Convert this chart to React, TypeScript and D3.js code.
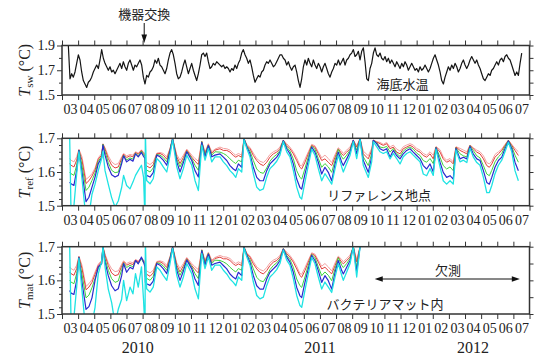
import React, { useRef, useEffect } from 'react';
import * as d3 from 'd3';

// time axis: months counted from 2010-03-01 (0) to 2012-08-01 (29)
const MONTH_LABELS = [
  '03', '04', '05', '06', '07', '08', '09', '10', '11', '12',
  '01', '02', '03', '04', '05', '06', '07', '08', '09', '10', '11', '12',
  '01', '02', '03', '04', '05', '06', '07',
];
const YEAR_LABELS = ['2010', '2011', '2012'];
const YEAR_AT = [4.7, 16.0, 25.5];

// seabed water temperature, regular samples (~3.15 days)
const SW_START = 0.393;
const SW_STEP = 0.1034;
const SW_VALUES = [
  1.900, 1.631, 1.672, 1.644, 1.686, 1.756, 1.825, 1.783, 1.686, 1.617,
  1.589, 1.561, 1.603, 1.617, 1.644, 1.686, 1.714, 1.742, 1.714, 1.783,
  1.867, 1.797, 1.756, 1.728, 1.700, 1.728, 1.686, 1.700, 1.672, 1.700,
  1.728, 1.756, 1.714, 1.769, 1.728, 1.700, 1.756, 1.783, 1.742, 1.700,
  1.742, 1.728, 1.756, 1.783, 1.742, 1.644, 1.589, 1.658, 1.644, 1.686,
  1.700, 1.728, 1.783, 1.756, 1.797, 1.742, 1.728, 1.700, 1.672, 1.714,
  1.783, 1.839, 1.867, 1.825, 1.756, 1.672, 1.631, 1.644, 1.686, 1.742,
  1.783, 1.728, 1.672, 1.714, 1.756, 1.700, 1.658, 1.617, 1.672, 1.742,
  1.825, 1.839, 1.811, 1.839, 1.769, 1.714, 1.728, 1.756, 1.742, 1.769,
  1.756, 1.742, 1.728, 1.742, 1.714, 1.728, 1.714, 1.686, 1.714, 1.700,
  1.742, 1.714, 1.756, 1.783, 1.839, 1.867, 1.825, 1.797, 1.756, 1.783,
  1.728, 1.658, 1.603, 1.631, 1.658, 1.644, 1.686, 1.700, 1.742, 1.769,
  1.756, 1.783, 1.756, 1.728, 1.742, 1.769, 1.797, 1.825, 1.825, 1.797,
  1.783, 1.742, 1.769, 1.728, 1.700, 1.728, 1.742,
  1.686, 1.617, 1.561, 1.631, 1.728, 1.783, 1.742, 1.797, 1.756, 1.728,
  1.783, 1.742, 1.714, 1.756, 1.728, 1.686, 1.728, 1.756, 1.714, 1.672,
  1.644, 1.686, 1.714, 1.756, 1.742, 1.783, 1.742, 1.769, 1.797, 1.742,
  1.783, 1.797, 1.825, 1.839, 1.867, 1.811, 1.825, 1.853, 1.783, 1.853,
  1.881, 1.769, 1.631, 1.617, 1.714, 1.756, 1.839, 1.881, 1.825, 1.811,
  1.839, 1.797, 1.783, 1.811, 1.769, 1.797, 1.756, 1.783, 1.756, 1.728,
  1.769, 1.742, 1.714, 1.756, 1.728, 1.769, 1.742, 1.700, 1.728, 1.756,
  1.728, 1.700, 1.714, 1.686, 1.728, 1.700, 1.714, 1.742, 1.714, 1.686,
  1.714, 1.756, 1.797, 1.825, 1.783, 1.742, 1.686, 1.617, 1.589, 1.644,
  1.686, 1.728, 1.700, 1.742, 1.714, 1.756, 1.728, 1.686, 1.714, 1.756,
  1.783, 1.742, 1.714, 1.742, 1.783, 1.811, 1.783, 1.756, 1.783, 1.742,
  1.714, 1.672, 1.631, 1.617, 1.644, 1.672, 1.658, 1.700, 1.714, 1.742,
  1.769, 1.742, 1.783, 1.797, 1.769, 1.811, 1.825, 1.797, 1.783, 1.742,
  1.700, 1.658, 1.686, 1.658, 1.756, 1.839,
];

// sediment sensor records share these times (months since 2010-03-01)
const KEY_TIMES = [
  0.47, 0.56, 0.74, 0.91, 1.05, 1.24, 1.49, 1.67, 1.86, 2.05,
  2.25, 2.46, 2.54, 2.67, 2.87, 3.08, 3.29, 3.49, 3.70, 3.82,
  4.01, 4.22, 4.40, 4.56, 4.73, 4.93, 5.06, 5.15, 5.17, 5.25,
  5.46, 5.66, 5.88, 6.08, 6.28, 6.50, 6.70, 6.86, 7.12, 7.32,
  7.53, 7.74, 8.05, 8.25, 8.46, 8.67, 8.87, 9.08, 9.29, 9.49,
  9.80, 10.01, 10.22, 10.42, 10.63, 10.78, 10.94, 11.15, 11.29, 11.46,
  11.66, 11.87, 12.08, 12.28, 12.49, 12.70, 12.90, 13.11, 13.32, 13.52,
  13.73, 13.94, 14.14, 14.35, 14.56, 14.76, 14.87, 15.07, 15.28, 15.49,
  15.69, 15.90, 16.11, 16.31, 16.52, 16.73, 16.94, 17.14, 17.35, 17.45,
  17.66, 17.87, 18.07, 18.28, 18.49, 18.69, 19.00, 19.21, 19.31, 19.52,
  19.73, 19.93, 20.14, 20.35, 20.55, 20.76, 20.97, 21.17, 21.38, 21.59,
  21.79, 22.00, 22.21, 22.41, 22.62, 22.83, 23.03, 23.20, 23.45, 23.65,
  23.86, 24.07, 24.27, 24.44, 24.69, 24.90, 25.11, 25.31, 25.51, 25.73,
  25.93, 26.14, 26.35, 26.51, 26.66, 26.86, 27.07, 27.28, 27.48, 27.69,
  27.90, 28.10, 28.31,
];

// reference site
const REF_PINK = [
  1.640, 1.635, 1.630, 1.645, 1.668, 1.645, 1.578, 1.585, 1.595, 1.612,
  1.642, 1.655, 1.684, 1.672, 1.648, 1.630, 1.622, 1.625, 1.645, 1.655,
  1.648, 1.652, 1.650, 1.660, 1.656, 1.666, 1.658, 1.655, 1.632, 1.628,
  1.622, 1.630, 1.656, 1.658, 1.655, 1.645, 1.670, 1.700, 1.652, 1.635,
  1.650, 1.668, 1.650, 1.640, 1.632, 1.692, 1.660, 1.684, 1.660, 1.668,
  1.674, 1.670, 1.669, 1.665, 1.655, 1.650, 1.655, 1.650, 1.700, 1.682,
  1.673, 1.656, 1.640, 1.632, 1.628, 1.638, 1.652, 1.660, 1.665, 1.674,
  1.695, 1.684, 1.674, 1.660, 1.642, 1.620, 1.618, 1.638, 1.660, 1.682,
  1.678, 1.660, 1.642, 1.650, 1.640, 1.628, 1.652, 1.672, 1.662, 1.655,
  1.665, 1.675, 1.695, 1.678, 1.700, 1.662, 1.648, 1.670, 1.695, 1.690,
  1.688, 1.682, 1.688, 1.674, 1.680, 1.668, 1.662, 1.675, 1.680, 1.684,
  1.680, 1.670, 1.665, 1.655, 1.650, 1.660, 1.650, 1.676, 1.666, 1.645,
  1.635, 1.640, 1.630, 1.675, 1.670, 1.665, 1.660, 1.680, 1.672, 1.665,
  1.660, 1.648, 1.628, 1.624, 1.632, 1.652, 1.660, 1.668, 1.682, 1.695,
  1.682, 1.670, 1.660,
];
const REF_RED = [
  1.625, 1.620, 1.615, 1.635, 1.665, 1.635, 1.566, 1.574, 1.588, 1.606,
  1.638, 1.650, 1.683, 1.668, 1.640, 1.620, 1.612, 1.615, 1.640, 1.653,
  1.643, 1.648, 1.645, 1.658, 1.653, 1.664, 1.655, 1.652, 1.622, 1.618,
  1.612, 1.622, 1.654, 1.655, 1.650, 1.638, 1.668, 1.700, 1.645, 1.625,
  1.643, 1.665, 1.644, 1.632, 1.622, 1.690, 1.655, 1.681, 1.655, 1.665,
  1.669, 1.664, 1.664, 1.659, 1.649, 1.644, 1.649, 1.644, 1.699, 1.679,
  1.669, 1.649, 1.634, 1.624, 1.619, 1.629, 1.644, 1.654, 1.659, 1.669,
  1.694, 1.679, 1.669, 1.654, 1.634, 1.614, 1.609, 1.629, 1.654, 1.679,
  1.674, 1.654, 1.634, 1.639, 1.629, 1.619, 1.644, 1.669, 1.654, 1.649,
  1.659, 1.669, 1.694, 1.674, 1.699, 1.654, 1.639, 1.664, 1.694, 1.689,
  1.684, 1.679, 1.684, 1.669, 1.674, 1.659, 1.654, 1.669, 1.674, 1.679,
  1.674, 1.664, 1.659, 1.649, 1.644, 1.654, 1.639, 1.674, 1.659, 1.639,
  1.629, 1.634, 1.624, 1.674, 1.664, 1.659, 1.654, 1.679, 1.669, 1.659,
  1.654, 1.639, 1.619, 1.614, 1.624, 1.644, 1.654, 1.664, 1.679, 1.694,
  1.679, 1.664, 1.649,
];
const REF_GREEN = [
  1.600, 1.595, 1.590, 1.620, 1.665, 1.620, 1.545, 1.555, 1.575, 1.597,
  1.632, 1.646, 1.682, 1.660, 1.628, 1.605, 1.598, 1.600, 1.632, 1.650,
  1.636, 1.642, 1.638, 1.656, 1.648, 1.662, 1.650, 1.648, 1.610, 1.606,
  1.600, 1.612, 1.652, 1.650, 1.643, 1.630, 1.665, 1.699, 1.638, 1.615,
  1.635, 1.662, 1.640, 1.620, 1.605, 1.690, 1.650, 1.680, 1.650, 1.660,
  1.659, 1.655, 1.649, 1.639, 1.630, 1.625, 1.635, 1.630, 1.699, 1.677,
  1.662, 1.634, 1.609, 1.599, 1.596, 1.612, 1.632, 1.644, 1.652, 1.664,
  1.694, 1.674, 1.662, 1.639, 1.604, 1.584, 1.579, 1.610, 1.645, 1.677,
  1.668, 1.640, 1.614, 1.625, 1.615, 1.599, 1.635, 1.667, 1.645, 1.638,
  1.650, 1.665, 1.694, 1.665, 1.699, 1.645, 1.619, 1.655, 1.694, 1.687,
  1.674, 1.672, 1.676, 1.659, 1.670, 1.655, 1.646, 1.662, 1.670, 1.674,
  1.668, 1.656, 1.649, 1.634, 1.629, 1.640, 1.625, 1.673, 1.644, 1.619,
  1.609, 1.615, 1.604, 1.672, 1.654, 1.648, 1.645, 1.678, 1.664, 1.648,
  1.642, 1.619, 1.594, 1.589, 1.605, 1.630, 1.645, 1.655, 1.676, 1.693,
  1.675, 1.650, 1.629,
];
const REF_BLUE = [
  1.570, 1.565, 1.560, 1.605, 1.664, 1.600, 1.512, 1.525, 1.555, 1.585,
  1.625, 1.642, 1.680, 1.650, 1.615, 1.592, 1.585, 1.590, 1.625, 1.648,
  1.630, 1.638, 1.632, 1.654, 1.645, 1.658, 1.646, 1.640, 1.594, 1.590,
  1.585, 1.598, 1.650, 1.645, 1.635, 1.620, 1.662, 1.698, 1.630, 1.600,
  1.628, 1.660, 1.634, 1.604, 1.585, 1.688, 1.645, 1.678, 1.645, 1.650,
  1.654, 1.644, 1.634, 1.619, 1.609, 1.604, 1.624, 1.614, 1.698, 1.675,
  1.654, 1.614, 1.584, 1.574, 1.574, 1.604, 1.624, 1.634, 1.644, 1.659,
  1.693, 1.669, 1.654, 1.624, 1.579, 1.554, 1.549, 1.594, 1.634, 1.674,
  1.659, 1.629, 1.594, 1.614, 1.599, 1.574, 1.624, 1.659, 1.629, 1.619,
  1.639, 1.659, 1.694, 1.654, 1.699, 1.634, 1.599, 1.644, 1.694, 1.684,
  1.669, 1.664, 1.669, 1.644, 1.664, 1.649, 1.639, 1.654, 1.664, 1.669,
  1.659, 1.649, 1.639, 1.619, 1.609, 1.624, 1.600, 1.672, 1.629, 1.599,
  1.584, 1.589, 1.579, 1.670, 1.639, 1.644, 1.639, 1.676, 1.654, 1.639,
  1.634, 1.604, 1.569, 1.564, 1.584, 1.614, 1.634, 1.644, 1.669, 1.692,
  1.669, 1.629, 1.604,
];
const REF_CYAN = [
  1.720, 1.480, 1.500, 1.594, 1.660, 1.580, 1.460, 1.470, 1.534, 1.564,
  1.604, 1.640, 1.662, 1.604, 1.564, 1.524, 1.496, 1.514, 1.554, 1.590,
  1.560, 1.550, 1.570, 1.590, 1.604, 1.620, 1.584, 1.450, 1.720, 1.575,
  1.565, 1.580, 1.640, 1.630, 1.615, 1.600, 1.650, 1.695, 1.615, 1.580,
  1.610, 1.650, 1.620, 1.575, 1.545, 1.680, 1.635, 1.670, 1.630, 1.645,
  1.645, 1.630, 1.619, 1.604, 1.594, 1.584, 1.610, 1.600, 1.696, 1.670,
  1.645, 1.595, 1.555, 1.545, 1.550, 1.585, 1.610, 1.620, 1.632, 1.650,
  1.690, 1.660, 1.645, 1.605, 1.555, 1.525, 1.520, 1.570, 1.620, 1.668,
  1.650, 1.610, 1.574, 1.595, 1.580, 1.564, 1.610, 1.650, 1.615, 1.600,
  1.625, 1.650, 1.690, 1.640, 1.696, 1.620, 1.584, 1.630, 1.690, 1.675,
  1.660, 1.655, 1.660, 1.639, 1.655, 1.640, 1.624, 1.645, 1.655, 1.660,
  1.650, 1.640, 1.630, 1.594, 1.589, 1.610, 1.590, 1.668, 1.615, 1.574,
  1.564, 1.574, 1.564, 1.665, 1.630, 1.635, 1.628, 1.670, 1.645, 1.628,
  1.620, 1.584, 1.539, 1.539, 1.560, 1.595, 1.620, 1.635, 1.660, 1.688,
  1.660, 1.604, 1.574,
];

// inside the bacterial mat (record stops in Sep 2011)
const MAT_PINK = [
  1.640, 1.635, 1.630, 1.645, 1.672, 1.645, 1.582, 1.590, 1.602, 1.625,
  1.648, 1.660, 1.700, 1.678, 1.652, 1.634, 1.626, 1.628, 1.648, 1.658,
  1.650, 1.655, 1.652, 1.662, 1.658, 1.668, 1.660, 1.656, 1.632, 1.628,
  1.622, 1.630, 1.656, 1.658, 1.655, 1.645, 1.670, 1.700, 1.652, 1.635,
  1.650, 1.668, 1.650, 1.640, 1.632, 1.692, 1.660, 1.684, 1.660, 1.668,
  1.674, 1.670, 1.669, 1.665, 1.655, 1.650, 1.655, 1.650, 1.700, 1.682,
  1.673, 1.656, 1.640, 1.632, 1.628, 1.638, 1.652, 1.660, 1.665, 1.674,
  1.695, 1.684, 1.674, 1.660, 1.642, 1.620, 1.618, 1.638, 1.660, 1.682,
  1.678, 1.660, 1.642, 1.650, 1.640, 1.628, 1.652, 1.672, 1.662, 1.655,
  1.665, 1.675, 1.700, 1.662, 1.700,
];
const MAT_RED = [
  1.625, 1.620, 1.615, 1.635, 1.670, 1.635, 1.572, 1.580, 1.594, 1.618,
  1.644, 1.656, 1.700, 1.674, 1.644, 1.622, 1.614, 1.617, 1.642, 1.655,
  1.645, 1.650, 1.647, 1.660, 1.655, 1.666, 1.657, 1.653, 1.622, 1.618,
  1.612, 1.622, 1.654, 1.655, 1.650, 1.638, 1.668, 1.700, 1.645, 1.625,
  1.643, 1.665, 1.644, 1.632, 1.622, 1.690, 1.655, 1.681, 1.655, 1.665,
  1.669, 1.664, 1.664, 1.659, 1.649, 1.644, 1.649, 1.644, 1.699, 1.679,
  1.669, 1.649, 1.634, 1.624, 1.619, 1.629, 1.644, 1.654, 1.659, 1.669,
  1.694, 1.679, 1.669, 1.654, 1.634, 1.614, 1.609, 1.629, 1.654, 1.679,
  1.674, 1.654, 1.634, 1.639, 1.629, 1.619, 1.644, 1.669, 1.654, 1.649,
  1.659, 1.669, 1.700, 1.655, 1.700,
];
const MAT_GREEN = [
  1.600, 1.595, 1.590, 1.620, 1.668, 1.618, 1.548, 1.556, 1.578, 1.606,
  1.636, 1.650, 1.700, 1.664, 1.630, 1.605, 1.594, 1.598, 1.632, 1.652,
  1.638, 1.645, 1.640, 1.658, 1.650, 1.664, 1.652, 1.649, 1.610, 1.606,
  1.600, 1.612, 1.652, 1.650, 1.643, 1.630, 1.665, 1.699, 1.638, 1.615,
  1.635, 1.662, 1.640, 1.620, 1.605, 1.690, 1.650, 1.680, 1.650, 1.660,
  1.659, 1.655, 1.649, 1.639, 1.630, 1.625, 1.635, 1.630, 1.699, 1.677,
  1.662, 1.634, 1.609, 1.599, 1.596, 1.612, 1.632, 1.644, 1.652, 1.664,
  1.694, 1.674, 1.662, 1.639, 1.604, 1.584, 1.579, 1.610, 1.645, 1.677,
  1.668, 1.640, 1.614, 1.625, 1.615, 1.599, 1.635, 1.667, 1.645, 1.638,
  1.650, 1.665, 1.700, 1.640, 1.700,
];
const MAT_BLUE = [
  1.570, 1.562, 1.558, 1.600, 1.668, 1.595, 1.514, 1.522, 1.548, 1.600,
  1.640, 1.650, 1.700, 1.655, 1.614, 1.584, 1.569, 1.575, 1.614, 1.650,
  1.624, 1.639, 1.634, 1.659, 1.649, 1.669, 1.654, 1.640, 1.594, 1.590,
  1.585, 1.598, 1.650, 1.645, 1.635, 1.620, 1.662, 1.698, 1.630, 1.600,
  1.628, 1.660, 1.634, 1.604, 1.585, 1.688, 1.645, 1.678, 1.645, 1.650,
  1.654, 1.644, 1.634, 1.619, 1.609, 1.604, 1.624, 1.614, 1.698, 1.675,
  1.654, 1.614, 1.584, 1.574, 1.574, 1.604, 1.624, 1.634, 1.644, 1.659,
  1.693, 1.669, 1.654, 1.624, 1.579, 1.554, 1.549, 1.594, 1.634, 1.674,
  1.659, 1.629, 1.594, 1.614, 1.599, 1.574, 1.624, 1.659, 1.629, 1.619,
  1.639, 1.659, 1.700, 1.625, 1.700,
];
const MAT_CYAN = [
  1.720, 1.480, 1.490, 1.580, 1.665, 1.570, 1.440, 1.450, 1.470, 1.520,
  1.620, 1.655, 1.700, 1.640, 1.574, 1.534, 1.470, 1.514, 1.544, 1.600,
  1.540, 1.580, 1.560, 1.620, 1.580, 1.640, 1.540, 1.450, 1.720, 1.575,
  1.565, 1.580, 1.640, 1.630, 1.615, 1.600, 1.650, 1.695, 1.615, 1.580,
  1.610, 1.650, 1.620, 1.575, 1.545, 1.680, 1.635, 1.670, 1.630, 1.645,
  1.645, 1.630, 1.619, 1.604, 1.594, 1.584, 1.610, 1.600, 1.696, 1.670,
  1.645, 1.595, 1.555, 1.545, 1.550, 1.585, 1.610, 1.620, 1.632, 1.650,
  1.690, 1.660, 1.645, 1.605, 1.555, 1.525, 1.520, 1.570, 1.620, 1.668,
  1.650, 1.610, 1.574, 1.595, 1.580, 1.564, 1.610, 1.650, 1.615, 1.600,
  1.625, 1.650, 1.700, 1.610, 1.700,
];

const SWAP_AT = 5.1; // 機器交換
const GAP_FROM = 19.4; // 欠測
const GAP_TO = 28.4;

const SERIF = '"Liberation Serif", "Times New Roman", serif';
const JP = '"Noto Sans CJK JP", sans-serif';

function App() {
  const chartRef = useRef<SVGSVGElement>(null);

  useEffect(() => {
    const svg = d3.select(chartRef.current);
    svg.selectAll('*').remove();

    const x = d3.scaleLinear().domain([0, 29]).range([62, 529.5]);
    const left = 62;
    const right = 529.5;

    const sensorStyles = [
      { color: '#f3a2a2', width: 1 },
      { color: '#e2403c', width: 1 },
      { color: '#3fd43f', width: 1 },
      { color: '#2a2acf', width: 1.2 },
      { color: '#1fe3e3', width: 1.3 },
    ];

    const panels = [
      {
        id: 'sw', top: 45.5, bottom: 95, domain: [1.5, 1.9],
        major: [1.5, 1.7, 1.9], minor: [1.6, 1.8], rightTicks: [1.5, 1.6, 1.7, 1.8, 1.9],
        sub: 'sw',
      },
      {
        id: 'ref', top: 138.3, bottom: 205.7, domain: [1.5, 1.7],
        major: [1.5, 1.6, 1.7], minor: [1.52, 1.54, 1.56, 1.58, 1.62, 1.64, 1.66, 1.68],
        rightTicks: [1.5, 1.55, 1.6, 1.65, 1.7], sub: 'ref',
        series: [REF_PINK, REF_RED, REF_GREEN, REF_BLUE, REF_CYAN],
      },
      {
        id: 'mat', top: 246.7, bottom: 314, domain: [1.5, 1.7],
        major: [1.5, 1.6, 1.7], minor: [1.52, 1.54, 1.56, 1.58, 1.62, 1.64, 1.66, 1.68],
        rightTicks: [1.5, 1.55, 1.6, 1.65, 1.7], sub: 'mat',
        series: [MAT_PINK, MAT_RED, MAT_GREEN, MAT_BLUE, MAT_CYAN],
      },
    ];

    const styleAxis = (g: any) => {
      g.select('.domain').remove();
      g.selectAll('line').attr('stroke', '#333').attr('stroke-width', 1);
      g.attr('font-family', SERIF).attr('font-size', 14).attr('fill', null);
      g.selectAll('text').attr('fill', '#222').attr('font-family', SERIF);
    };

    const ys: any = {};

    panels.forEach(p => {
      const y = d3.scaleLinear().domain(p.domain).range([p.bottom, p.top]);
      ys[p.id] = y;

      svg.append('defs').append('clipPath').attr('id', `clip-${p.id}`)
        .append('rect')
        .attr('x', left).attr('y', p.top)
        .attr('width', right - left).attr('height', p.bottom - p.top);

      const plot = svg.append('g').attr('clip-path', `url(#clip-${p.id})`);

      if (p.id === 'sw') {
        const line = d3.line<number>()
          .x((d, i) => x(SW_START + i * SW_STEP))
          .y(d => y(d));
        plot.append('path')
          .datum(SW_VALUES)
          .attr('d', line)
          .attr('fill', 'none')
          .attr('stroke', '#151515')
          .attr('stroke-width', 1.2)
          .attr('stroke-linejoin', 'round');
      } else {
        p.series!.forEach((vals, k) => {
          const line = d3.line<number>()
            .x((d, i) => x(KEY_TIMES[i]))
            .y(d => y(d));
          plot.append('path')
            .datum(vals)
            .attr('d', line)
            .attr('fill', 'none')
            .attr('stroke', sensorStyles[k].color)
            .attr('stroke-width', sensorStyles[k].width)
            .attr('stroke-linejoin', 'round');
        });
      }

      // month ticks, top and bottom, outward
      svg.append('g')
        .attr('transform', `translate(0,${p.top})`)
        .call(d3.axisTop(x).tickValues(d3.range(0, 30)).tickSize(5).tickFormat(() => ''))
        .call(styleAxis);
      svg.append('g')
        .attr('transform', `translate(0,${p.bottom})`)
        .call(d3.axisBottom(x).tickValues(d3.range(0, 30)).tickSize(5).tickFormat(() => ''))
        .call(styleAxis);
      // month labels sit between the ticks
      svg.append('g')
        .attr('transform', `translate(0,${p.bottom})`)
        .call(d3.axisBottom(x)
          .tickValues(d3.range(29).map(i => i + 0.5))
          .tickSize(0)
          .tickPadding(9.5)
          .tickFormat((d, i) => MONTH_LABELS[i]))
        .call(styleAxis);

      // value axes
      svg.append('g')
        .attr('transform', `translate(${left},0)`)
        .call(d3.axisLeft(y).tickValues(p.major).tickSize(5).tickPadding(2).tickFormat(d3.format('.1f')))
        .call(styleAxis);
      svg.append('g')
        .attr('transform', `translate(${left},0)`)
        .call(d3.axisLeft(y).tickValues(p.minor).tickSize(3).tickFormat(() => ''))
        .call(styleAxis);
      svg.append('g')
        .attr('transform', `translate(${right},0)`)
        .call(d3.axisRight(y).tickValues(p.rightTicks).tickSize(4).tickFormat(() => ''))
        .call(styleAxis);

      svg.append('rect')
        .attr('x', left).attr('y', p.top)
        .attr('width', right - left).attr('height', p.bottom - p.top)
        .attr('fill', 'none')
        .attr('stroke', '#333')
        .attr('stroke-width', 1.5);

      // axis title: T_sub (°C)
      const title = svg.append('text')
        .attr('transform', `translate(29.5,${(p.top + p.bottom) / 2}) rotate(-90)`)
        .attr('text-anchor', 'middle')
        .attr('font-family', SERIF)
        .attr('font-size', 16)
        .attr('fill', '#222');
      title.append('tspan').attr('font-style', 'italic').text('T');
      title.append('tspan').attr('font-size', 11).attr('dy', 3).text(p.sub);
      title.append('tspan').attr('dy', -3).text(' (°C)');
    });

    // years
    svg.append('g').selectAll('text')
      .data(YEAR_LABELS)
      .enter().append('text')
      .attr('x', (d, i) => x(YEAR_AT[i]))
      .attr('y', 353)
      .attr('text-anchor', 'middle')
      .attr('font-family', SERIF)
      .attr('font-size', 16)
      .attr('fill', '#222')
      .text(d => d);

    const jpText = (txt: string, xv: number, yv: number) =>
      svg.append('text')
        .attr('x', xv).attr('y', yv)
        .attr('text-anchor', 'middle')
        .attr('font-family', JP)
        .attr('font-size', 13)
        .attr('fill', '#222')
        .text(txt);

    // instrument exchange arrow
    const sx = x(SWAP_AT);
    jpText('機器交換', sx, 19);
    svg.append('line')
      .attr('x1', sx).attr('x2', sx).attr('y1', 23).attr('y2', 36)
      .attr('stroke', '#111').attr('stroke-width', 1);
    svg.append('path')
      .attr('d', `M${sx - 2.8},34.5 L${sx + 2.8},34.5 L${sx},43 Z`)
      .attr('fill', '#111');

    jpText('海底水温', x(21.12), ys.sw(1.548));
    jpText('リファレンス地点', x(19.67), ys.ref(1.517));
    jpText('バクテリアマット内', x(20.04), ys.mat(1.515));

    // missing data
    const ay = ys.mat(1.604);
    const ax1 = x(GAP_FROM);
    const ax2 = x(GAP_TO);
    jpText('欠測', x(23.95), ys.mat(1.616));
    svg.append('line')
      .attr('x1', ax1 + 6).attr('x2', ax2 - 6).attr('y1', ay).attr('y2', ay)
      .attr('stroke', '#111').attr('stroke-width', 1);
    svg.append('path')
      .attr('d', `M${ax1},${ay} L${ax1 + 8},${ay - 2.8} L${ax1 + 8},${ay + 2.8} Z`)
      .attr('fill', '#111');
    svg.append('path')
      .attr('d', `M${ax2},${ay} L${ax2 - 8},${ay - 2.8} L${ax2 - 8},${ay + 2.8} Z`)
      .attr('fill', '#111');
  }, []);

  return (
    <svg
      ref={chartRef}
      width={536}
      height={357}
      style={{ position: 'absolute', left: 0, top: 0, background: '#fff' }}
    ></svg>
  );
}

export default App;
